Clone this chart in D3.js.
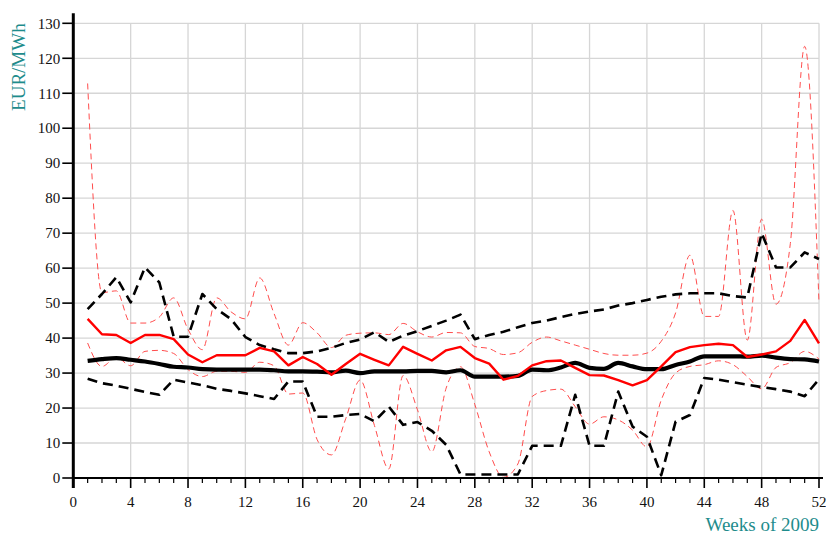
<!DOCTYPE html>
<html>
<head>
<meta charset="utf-8">
<script src="https://cdn.jsdelivr.net/npm/d3@7"></script>
<style>
  html, body { margin: 0; padding: 0; background: #fff; }
  svg { display: block; font-family: "Liberation Serif", "Times New Roman", serif; }
</style>
</head>
<body>
<svg id="chart" width="826" height="535"></svg>
<script>
// Weekly electricity prices, 2009 (EUR/MWh)
const weeks = d3.range(1, 53);

const blackMean = [33.5, 34, 34.3, 33.8, 33.3, 32.6, 31.8, 31.6, 31.1, 31, 31, 31, 31, 30.8, 30.5, 30.5, 30.4, 30.2, 30.7, 30,
  30.5, 30.5, 30.5, 30.6, 30.6, 30.2, 30.8, 29, 29, 29, 29.2, 31, 30.8, 31.6, 32.9, 31.5, 31.2, 32.9, 31.9, 31.1,
  31.1, 32.3, 33.3, 34.8, 34.8, 34.8, 34.7, 35, 34.4, 34, 33.9, 33.3];

const blackMax = [48.3, 52.6, 57.4, 50.2, 60.2, 55.9, 40.4, 40.4, 52.6, 48.3, 45.4, 40.3, 38, 36.8, 35.7, 35.7, 36.2, 37.2, 38.6, 39.6,
  41.7, 38.9, 40.7, 42, 43.5, 45, 46.7, 39.7, 40.9, 41.8, 43.1, 44.3, 45, 46, 46.9, 47.6, 48.2, 49.3, 50, 50.9,
  51.8, 52.5, 52.8, 52.8, 52.8, 52, 51.6, 70, 60.2, 60.2, 64.5, 62.6];

const blackMin = [28.4, 27.1, 26.4, 25.5, 24.6, 23.8, 28.1, 27.3, 26.5, 25.5, 24.9, 24.2, 23.4, 22.6, 27.6, 27.6, 17.5, 17.5, 18, 18.3,
  16.2, 20.4, 15.2, 16, 13.5, 9.5, 1, 1, 1, 1, 1, 9.2, 9.2, 9.2, 23.8, 9.2, 9.2, 24.7, 14.7, 11.8,
  0.8, 16.1, 18, 28.6, 28.1, 27.4, 26.7, 26, 25.4, 24.7, 23.4, 28.2];

const redMean = [45.5, 41.1, 40.9, 38.6, 40.9, 40.9, 39.7, 35.3, 33.1, 35.1, 35.1, 35.1, 37.2, 36.2, 32.2, 34.6, 32.6, 29.5, 32.6, 35.5,
  33.8, 32.2, 37.5, 35.5, 33.6, 36.5, 37.5, 34.3, 32.7, 28.1, 29.2, 32.2, 33.4, 33.6, 31.5, 29.4, 29.3, 28, 26.5, 28,
  31.9, 36, 37.4, 38, 38.4, 38, 34.6, 35.3, 36.2, 39.2, 45.2, 38.5];

const redMax = [112.8, 53, 53.5, 44.3, 44.3, 46, 51.5, 42.5, 36.7, 51.5, 47.5, 45.5, 57.2, 47, 38, 44.4, 41.5, 37.3, 40.8, 41.4,
  41.5, 41, 44.2, 41.8, 40.3, 41.6, 41.5, 37.6, 37, 35.3, 35.8, 38.8, 40.3, 39.2, 38, 36.8, 35.6, 35.1, 35.1, 35.7,
  39.1, 47.2, 63.7, 46.2, 46.2, 76.5, 39.4, 74, 49.7, 67, 123.4, 50];

const redMin = [38.6, 31.9, 34.5, 32.1, 36.2, 36.5, 35.6, 31, 29, 30.5, 30.5, 30.2, 33.1, 32.1, 24, 24.3, 11, 6.6, 17, 28,
  15, 2.6, 29.3, 19.5, 7.5, 25.7, 31.8, 21, 7.5, 0.2, 4, 23.3, 25, 25.4, 20.4, 15.4, 17.5, 16.6, 13.7, 8.9,
  22.3, 30, 31.9, 32.4, 33.5, 32.4, 29, 25.5, 31.6, 33, 36.2, 34];

const xTicks = d3.range(0, 53, 4);
const yTicks = d3.range(0, 131, 10);
const xLabel = "Weeks of 2009";
const yLabel = "EUR/MWh";

const svg = d3.select("#chart");
const margin = { left: 73.3, right: 7, top: 23.3, bottom: 57 };
const W = 826, H = 535;

const x = d3.scaleLinear().domain([0, 52]).range([margin.left, W - margin.right]);
const y = d3.scaleLinear().domain([0, 130]).range([H - margin.bottom, margin.top]);

const teal = "#1e8c8c";

// grid
const grid = svg.append("g").attr("stroke", "#d6d6d6").attr("stroke-width", 1.3);
grid.selectAll("line.h").data(yTicks.filter(d => d > 0)).join("line")
  .attr("x1", x(0)).attr("x2", x(52))
  .attr("y1", d => y(d)).attr("y2", d => y(d));
grid.selectAll("line.v").data(xTicks.filter(d => d > 0)).join("line")
  .attr("y1", y(0)).attr("y2", y(130))
  .attr("x1", d => x(d)).attr("x2", d => x(d));

// series
const lineStraight = d3.line().x((d, i) => x(weeks[i])).y(d => y(d));
const lineSmooth = d3.line().x((d, i) => x(weeks[i])).y(d => y(d)).curve(d3.curveMonotoneX);

const series = [
  { data: redMax, gen: lineSmooth, color: "#ff4d4d", width: 1, dash: "6,4" },
  { data: redMin, gen: lineSmooth, color: "#ff4d4d", width: 1, dash: "6,4" },
  { data: blackMax, gen: lineStraight, color: "#000", width: 2.6, dash: "10,6" },
  { data: blackMin, gen: lineStraight, color: "#000", width: 2.6, dash: "10,6" },
  { data: blackMean, gen: lineSmooth, color: "#000", width: 4.2, dash: null },
  { data: redMean, gen: lineStraight, color: "#ff0000", width: 2.4, dash: null }
];

svg.append("g").selectAll("path").data(series).join("path")
  .attr("fill", "none")
  .attr("stroke", d => d.color)
  .attr("stroke-width", d => d.width)
  .attr("stroke-dasharray", d => d.dash)
  .attr("stroke-linejoin", "round")
  .attr("d", d => d.gen(d.data));

// x axis
const xAxis = svg.append("g");
xAxis.selectAll("line.minor").data(weeks.filter(w => w % 4 !== 0)).join("line")
  .attr("stroke", "#000").attr("stroke-width", 1.2)
  .attr("x1", d => x(d)).attr("x2", d => x(d))
  .attr("y1", y(0)).attr("y2", y(0) + 5);
xAxis.selectAll("line.major").data(xTicks).join("line")
  .attr("stroke", "#000").attr("stroke-width", 1.6)
  .attr("x1", d => x(d)).attr("x2", d => x(d))
  .attr("y1", y(0)).attr("y2", y(0) + 10);
xAxis.append("line")
  .attr("stroke", "#000").attr("stroke-width", 2.2)
  .attr("x1", x(0)).attr("x2", x(52) + 4)
  .attr("y1", y(0)).attr("y2", y(0));
xAxis.selectAll("text").data(xTicks).join("text")
  .attr("x", d => x(d)).attr("y", y(0) + 29)
  .attr("text-anchor", "middle")
  .attr("font-size", 15).attr("fill", "#111")
  .text(d => d);

// y axis
const yAxis = svg.append("g");
yAxis.selectAll("line").data(yTicks).join("line")
  .attr("stroke", "#000").attr("stroke-width", 1.6)
  .attr("x1", x(0) - 11).attr("x2", x(0))
  .attr("y1", d => y(d)).attr("y2", d => y(d));
yAxis.append("line")
  .attr("stroke", "#000").attr("stroke-width", 3)
  .attr("x1", x(0)).attr("x2", x(0))
  .attr("y1", y(0) + 10).attr("y2", y(130) - 10);
yAxis.selectAll("text").data(yTicks).join("text")
  .attr("x", x(0) - 13).attr("y", d => y(d))
  .attr("dy", "0.35em")
  .attr("text-anchor", "end")
  .attr("font-size", 15).attr("fill", "#111")
  .text(d => d);

// axis titles
svg.append("text")
  .attr("transform", `translate(25,${y(130)}) rotate(-90)`)
  .attr("text-anchor", "end")
  .attr("font-size", 19).attr("fill", teal)
  .text(yLabel);
svg.append("text")
  .attr("x", x(52)).attr("y", 531)
  .attr("text-anchor", "end")
  .attr("font-size", 19).attr("fill", teal)
  .text(xLabel);
</script>
</body>
</html>
